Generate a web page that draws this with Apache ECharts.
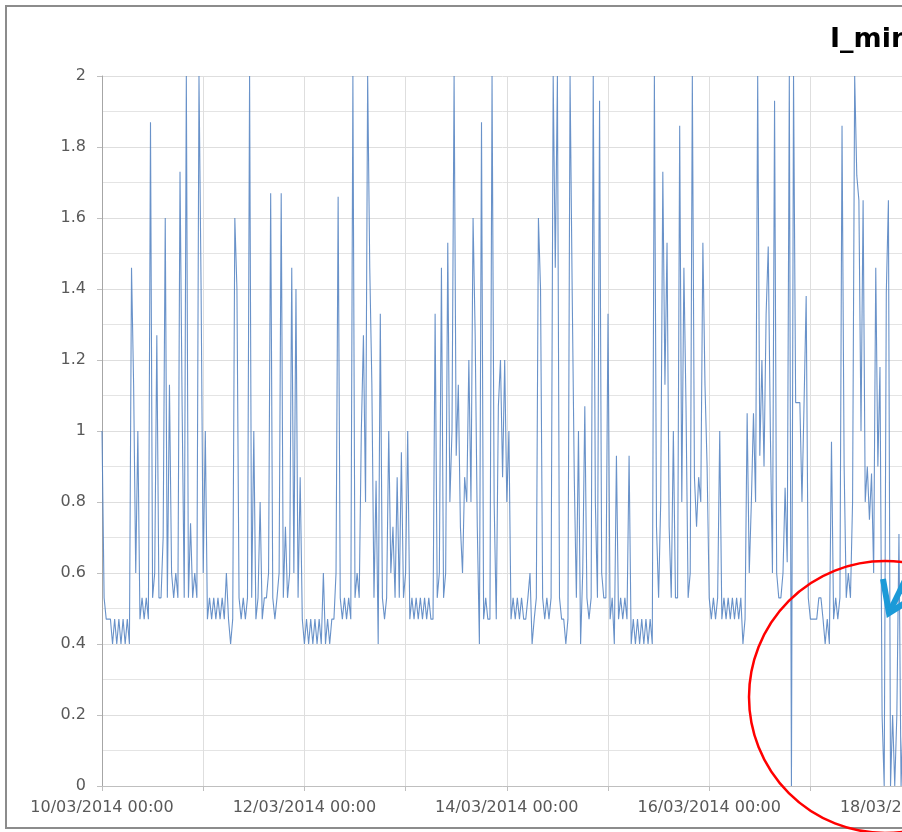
<!DOCTYPE html>
<html>
<head>
<meta charset="utf-8">
<script src="https://cdn.jsdelivr.net/npm/echarts@6/dist/echarts.min.js"></script>
<style>
html,body{margin:0;padding:0;background:#fff;}
#chart{width:902px;height:832px;}
</style>
</head>
<body>
<div id="chart"></div>
<script>
// Day labels on the time axis (one per day, shown every second day)
const dayLabels = ['10/03/2014 00:00','11/03/2014 00:00','12/03/2014 00:00','13/03/2014 00:00',
  '14/03/2014 00:00','15/03/2014 00:00','16/03/2014 00:00','17/03/2014 00:00',
  '18/03/2014 00:00','19/03/2014 00:00','20/03/2014 00:00'];
const shownDays = [0, 2, 4, 6, 8, 10];

// I_min readings, 30-minute samples, one array per day
const day10 = [1.0,0.53,0.47,0.47,0.47,0.40,0.47,0.40,0.47,0.40,0.47,0.40,0.47,0.40,1.46,1.13,
  0.6,1.0,0.47,0.53,0.47,0.53,0.47,1.87,0.53,0.6,1.27,0.53,0.53,0.7,1.6,0.53,
  1.13,0.6,0.53,0.6,0.53,1.73,1.07,0.53,2.0,0.53,0.74,0.53,0.6,0.53,2.0,1.4];
const day11 = [0.6,1.0,0.47,0.53,0.47,0.53,0.47,0.53,0.47,0.53,0.47,0.6,0.47,0.40,0.47,1.6,
  1.4,0.53,0.47,0.53,0.47,0.53,2.0,0.53,1.0,0.47,0.53,0.8,0.47,0.53,0.53,0.6,
  1.67,0.53,0.47,0.53,0.6,1.67,0.53,0.73,0.53,0.6,1.46,0.6,1.4,0.53,0.87,0.47];
const day12 = [0.40,0.47,0.40,0.47,0.40,0.47,0.40,0.47,0.40,0.6,0.40,0.47,0.40,0.47,0.47,0.6,
  1.66,0.53,0.47,0.53,0.47,0.53,0.47,2.0,0.53,0.6,0.53,1.0,1.27,0.8,2.0,1.46,
  1.13,0.53,0.86,0.40,1.33,0.53,0.47,0.53,1.0,0.6,0.73,0.53,0.87,0.53,0.94,0.53];
const day13 = [0.6,1.0,0.47,0.53,0.47,0.53,0.47,0.53,0.47,0.53,0.47,0.53,0.47,0.47,1.33,0.53,
  0.6,1.46,0.53,0.6,1.53,0.8,1.0,2.0,0.93,1.13,0.73,0.6,0.87,0.8,1.2,0.8,
  1.6,1.27,0.73,0.40,1.87,0.47,0.53,0.47,0.47,2.0,0.8,0.47,1.07,1.2,0.87,1.2];
const day14 = [0.8,1.0,0.47,0.53,0.47,0.53,0.47,0.53,0.47,0.47,0.53,0.6,0.40,0.47,0.53,1.6,
  1.4,0.53,0.47,0.53,0.47,0.53,2.0,1.46,2.0,0.53,0.47,0.47,0.40,0.47,2.0,1.4,
  0.87,0.53,1.0,0.40,0.6,1.07,0.53,0.47,0.53,2.0,0.8,0.53,1.93,0.6,0.53,0.53];
const day15 = [1.33,0.47,0.53,0.40,0.93,0.47,0.53,0.47,0.53,0.47,0.93,0.40,0.47,0.40,0.47,0.40,
  0.47,0.40,0.47,0.40,0.47,0.40,2.0,0.73,0.53,0.8,1.73,1.13,1.53,0.73,0.53,1.0,
  0.53,0.53,1.86,0.8,1.46,1.07,0.53,0.6,2.0,0.87,0.73,0.87,0.8,1.53,1.13,0.9];
const day16 = [0.53,0.47,0.53,0.47,0.53,1.0,0.47,0.53,0.47,0.53,0.47,0.53,0.47,0.53,0.47,0.53,
  0.40,0.47,1.05,0.6,0.8,1.05,0.8,2.0,0.93,1.2,0.9,1.33,1.52,1.0,0.6,1.93,
  0.6,0.53,0.53,0.6,0.84,0.63,2.0,0.0,2.0,1.08,1.08,1.08,0.8,1.08,1.38,0.53];
const day17 = [0.47,0.47,0.47,0.47,0.53,0.53,0.47,0.40,0.47,0.40,0.97,0.47,0.53,0.47,0.53,1.86,
  0.9,0.53,0.6,0.53,0.8,2.0,1.72,1.65,1.0,1.65,0.8,0.9,0.75,0.88,0.6,1.46,
  0.9,1.18,0.2,0.0,1.39,1.65,0.0,0.2,0.0,0.2,0.71,0.0,0.2,0.0,1.0,0.0];

const days = [day10, day11, day12, day13, day14, day15, day16, day17];
const seriesData = [];
days.forEach((arr, d) => {
  arr.forEach((v, i) => { seriesData.push([d * 24 + i * 0.5, v]); });
});

const chart = echarts.init(document.getElementById('chart'), null, {renderer: 'canvas'});
const labelFont = {fontFamily: 'DejaVu Sans', fontSize: 16, color: '#595959'};

chart.setOption({
  animation: false,
  backgroundColor: '#ffffff',
  title: {
    text: 'I_min',
    left: 825, top: 21,
    textStyle: {fontFamily: 'DejaVu Sans', fontWeight: 'bold', fontSize: 27, color: '#000000'}
  },
  grid: {left: 102, top: 76, width: 1012, height: 710, containLabel: false, outerBoundsMode: 'none'},
  xAxis: {
    type: 'value', min: 0, max: 240, interval: 24,
    axisLine: {show: true, lineStyle: {color: '#bfbfbf', width: 1}},
    axisTick: {show: true, length: 5, lineStyle: {color: '#bfbfbf'}},
    axisLabel: Object.assign({
      margin: 14,
      hideOverlap: false,
      formatter: function (v) {
        const d = Math.round(v / 24);
        return shownDays.indexOf(d) >= 0 ? dayLabels[d] : '';
      }
    }, labelFont),
    splitLine: {show: true, lineStyle: {color: '#dedede', width: 1}}
  },
  yAxis: {
    type: 'value', min: 0, max: 2, interval: 0.2,
    axisLine: {show: true, lineStyle: {color: '#a6a6a6', width: 1}},
    axisTick: {show: true, length: 5, lineStyle: {color: '#bfbfbf'}},
    axisLabel: Object.assign({margin: 16}, labelFont),
    splitLine: {show: true, lineStyle: {color: '#dedede', width: 1}},
    minorTick: {show: false, splitNumber: 2},
    minorSplitLine: {show: true, lineStyle: {color: '#e4e4e4', width: 1}}
  },
  series: [{
    type: 'line',
    data: seriesData,
    showSymbol: false,
    symbol: 'none',
    lineStyle: {color: '#4f7fc0', width: 1.1, opacity: 0.85},
    z: 3
  }],
  graphic: [
    {type: 'rect', shape: {x: 6, y: 6, width: 1000, height: 822},
     style: {fill: 'none', stroke: '#8c8c8c', lineWidth: 2}, z: 10, silent: true},
    {type: 'circle', shape: {cx: 885, cy: 697, r: 136},
     style: {fill: 'none', stroke: '#ff0000', lineWidth: 2.5}, z: 20, silent: true},
    {type: 'polyline', shape: {points: [[883, 579], [889, 613], [905, 603]]},
     style: {fill: 'none', stroke: '#1b9ad8', lineWidth: 6, lineJoin: 'miter'}, z: 21, silent: true},
    {type: 'line', shape: {x1: 889, y1: 613, x2: 915, y2: 560},
     style: {stroke: '#1b9ad8', lineWidth: 6}, z: 21, silent: true}
  ]
});
</script>
</body>
</html>
